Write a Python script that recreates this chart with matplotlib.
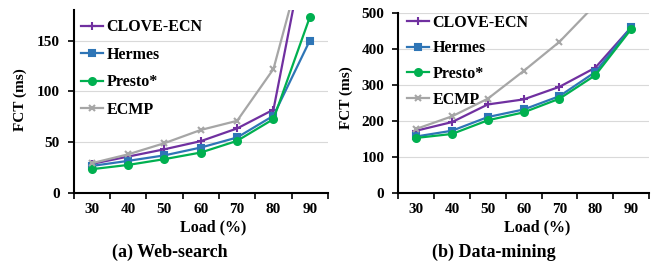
import matplotlib
matplotlib.use("Agg")
import matplotlib.pyplot as plt

# ---- data ----
loads = ["30", "40", "50", "60", "70", "80", "90"]
series_names = ["CLOVE-ECN", "Hermes", "Presto*", "ECMP"]

web_clove = [28.6, 35.8, 43, 51, 63.5, 82, 265]
web_hermes = [26.6, 31.6, 37, 44.7, 54.6, 76, 150]
web_presto = [23.4, 27.6, 33.3, 39.8, 51.3, 72.7, 173]
web_ecmp = [29.3, 38, 49, 62, 71, 122, 255]

dm_clove = [173, 197, 246, 260, 295, 348, 460]
dm_hermes = [157, 173, 211, 232, 269, 336, 460]
dm_presto = [153, 164, 202, 224, 262, 327, 455]
dm_ecmp = [178, 213, 262, 339, 420, 523, 700]

colors = ["#7030A0", "#2E75B6", "#00B050", "#A6A6A6"]
markers = ["+", "s", "o", "x"]
msizes = [5.5, 4.5, 5, 5]

plt.rcParams["font.family"] = ["Liberation Serif", "DejaVu Serif"]
plt.rcParams["font.weight"] = "bold"

W, H = 652, 267
fig = plt.figure(figsize=(W / 100, H / 100), dpi=100)


def px_axes(x0, x1, ytop, ybot):
    return fig.add_axes([x0 / W, 1 - ybot / H, (x1 - x0) / W, (ybot - ytop) / H])


def draw(ax, data, ymax, ystep, leg_anchor, leg_spacing):
    xs = list(range(len(loads)))
    for name, vals, c, m, ms in zip(series_names, data, colors, markers, msizes):
        ax.plot(xs, vals, color=c, lw=1.6, marker=m, ms=ms, mew=1.5,
                label=name, clip_on=True)
    ax.set_xlim(-0.5, len(loads) - 0.5)
    ax.set_ylim(0, ymax)
    ax.set_yticks(range(0, ymax + 1, ystep))
    ax.yaxis.grid(True, color="#D9D9D9", lw=0.8)
    ax.set_axisbelow(True)
    # category axis: ticks between categories, labels in the middle
    ax.set_xticks([i - 0.5 for i in range(len(loads) + 1)])
    ax.set_xticklabels([])
    ax.set_xticks(xs, minor=True)
    ax.set_xticklabels(loads, minor=True)
    ax.tick_params(axis="x", which="major", direction="out", length=4, width=1.2)
    ax.tick_params(axis="x", which="minor", length=0, pad=7, labelsize=11)
    ax.tick_params(axis="y", direction="out", length=4, width=1.2, labelsize=11, pad=6)
    for t in ax.get_xticklabels(minor=True) + ax.get_yticklabels():
        t.set_fontweight("bold")
    for s in ("top", "right"):
        ax.spines[s].set_visible(False)
    for s in ("left", "bottom"):
        ax.spines[s].set_linewidth(1.5)
    ax.legend(loc="upper left", bbox_to_anchor=leg_anchor, frameon=False,
              prop={"weight": "bold", "size": 11.5}, handlelength=1.4,
              handletextpad=0.2, labelspacing=leg_spacing, borderpad=0,
              borderaxespad=0)


ax1 = px_axes(73.5, 328, 10, 193)
draw(ax1, [web_clove, web_hermes, web_presto, web_ecmp], 180, 50, (0.03, 0.95), 0.72)
ax2 = px_axes(398.3, 649, 13, 193)
draw(ax2, [dm_clove, dm_hermes, dm_presto, dm_ecmp], 500, 100, (0.035, 0.99), 0.6)

fig.text(20 / W, 1 - 100 / H, "FCT (ms)", rotation=90, ha="center", va="center",
         fontsize=11, fontweight="bold")
fig.text(346 / W, 1 - 98 / H, "FCT (ms)", rotation=90, ha="center", va="center",
         fontsize=11, fontweight="bold")
fig.text(213 / W, 1 - 227 / H, "Load (%)", ha="center", va="center",
         fontsize=11.5, fontweight="bold")
fig.text(537 / W, 1 - 227 / H, "Load (%)", ha="center", va="center",
         fontsize=11.5, fontweight="bold")
fig.text(170 / W, 1 - 252 / H, "(a) Web-search", ha="center", va="center",
         fontsize=13, fontweight="bold")
fig.text(494 / W, 1 - 252 / H, "(b) Data-mining", ha="center", va="center",
         fontsize=13, fontweight="bold")

fig.savefig("out.png", dpi=100)
